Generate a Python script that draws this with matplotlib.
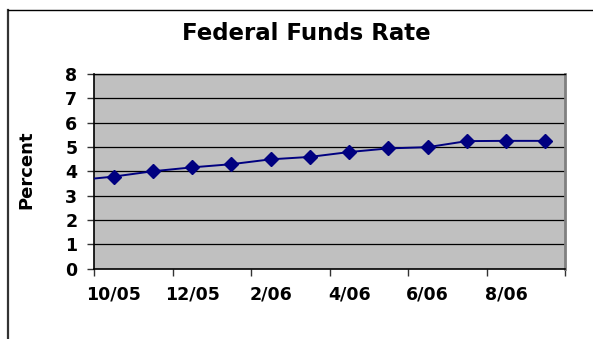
import matplotlib
matplotlib.use("Agg")
import matplotlib.pyplot as plt

# Data (monthly effective federal funds rate)
months = ["9/05", "10/05", "11/05", "12/05", "1/06", "2/06", "3/06",
          "4/06", "5/06", "6/06", "7/06", "8/06", "9/06"]
rates = [3.62, 3.78, 4.00, 4.16, 4.29, 4.49, 4.59, 4.79, 4.94, 4.99, 5.24, 5.25, 5.25]
tick_labels = ["10/05", "12/05", "2/06", "4/06", "6/06", "8/06"]
title = "Federal Funds Rate"
ylabel = "Percent"

W, H = 593, 339
fig = plt.figure(figsize=(W / 100, H / 100), dpi=100)
font = "DejaVu Sans"

# outer chart border
fig.add_artist(plt.Line2D([8 / W, 8 / W], [0, 1 - 10 / H], transform=fig.transFigure,
                          color="#333333", lw=1.6))
fig.add_artist(plt.Line2D([8 / W, 1], [1 - 10 / H, 1 - 10 / H], transform=fig.transFigure,
                          color="black", lw=1.0))

left, right, top, bottom = 94, 565, 74, 268.5
ax = fig.add_axes([left / W, (H - bottom) / H, (right - left) / W, (bottom - top) / H])
ax.set_facecolor("#C0C0C0")

x = list(range(-1, len(months) - 1))
ax.plot(x, rates, color="#000080", lw=1.4, marker="D", markersize=7,
        markerfacecolor="#000080", markeredgecolor="#000080", clip_on=True, zorder=3)

ax.set_xlim(-0.5, 11.5)
ax.set_ylim(0, 8)

# gridlines
for yv in range(1, 9):
    ax.axhline(yv, color="black", lw=0.9, zorder=1)

ax.set_yticks(range(0, 9))
ax.set_yticklabels([str(v) for v in range(0, 9)], fontsize=12.5, fontweight="bold", family=font)
ax.tick_params(axis="y", length=5, width=1, direction="out", pad=7, color="#333333")

# x: major ticks at boundaries, labels at category centers
ax.set_xticks([i + 0.5 for i in range(-1, 12, 2)])
ax.set_xticklabels([])
ax.set_xticks([0, 2, 4, 6, 8, 10], minor=True)
ax.set_xticklabels(tick_labels, minor=True, fontsize=12.5, fontweight="bold", family=font)
ax.tick_params(axis="x", which="major", length=5, width=1, direction="out", color="#333333")
ax.tick_params(axis="x", which="minor", length=0, pad=12)

for s in ["left", "bottom"]:
    ax.spines[s].set_color("black")
    ax.spines[s].set_linewidth(1.2)
ax.spines["top"].set_color("black")
ax.spines["top"].set_linewidth(1.0)
ax.spines["right"].set_color("#808080")
ax.spines["right"].set_linewidth(2.0)

fig.text(306 / W, 1 - 34 / H, title, ha="center", va="center", fontsize=16.5,
         fontweight="bold", family=font)
fig.text(26 / W, 1 - 170 / H, ylabel, ha="center", va="center", rotation=90,
         fontsize=13, fontweight="bold", family=font)

fig.savefig("out.png", dpi=100)
